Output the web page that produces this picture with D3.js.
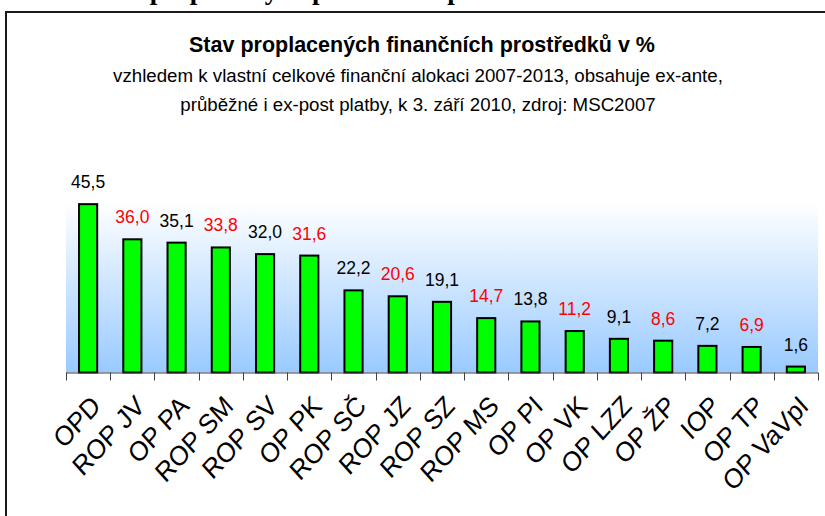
<!DOCTYPE html>
<html>
<head>
<meta charset="utf-8">
<script src="https://cdn.jsdelivr.net/npm/d3@7"></script>
<style>
  body { margin: 0; background: #fff; }
  svg { display: block; font-family: "Liberation Sans", Arial, sans-serif; }
</style>
</head>
<body>
<div id="chart"></div>
<script>
// data
const categories = ["OPD", "ROP JV", "OP PA", "ROP SM", "ROP SV", "OP PK", "ROP SČ", "ROP JZ", "ROP SZ",
                    "ROP MS", "OP PI", "OP VK", "OP LZZ", "OP ŽP", "IOP", "OP TP", "OP VaVpI"];
const values = [45.5, 36.0, 35.1, 33.8, 32.0, 31.6, 22.2, 20.6, 19.1, 14.7, 13.8, 11.2, 9.1, 8.6, 7.2, 6.9, 1.6];
const yDomain = [0, 50];

const titleText = "Stav proplacených finančních prostředků v %";
const subtitleLines = [
    "vzhledem k vlastní celkové finanční alokaci 2007-2013, obsahuje ex-ante,",
    "průběžné i ex-post platby, k 3. září 2010, zdroj: MSC2007"
];
// heading of the document page above the chart, only its descenders are in the picture
const pageText = "Stav proplacených prostředků podle OP";

const data = categories.map((c, i) => ({category: c, value: values[i]}));

const W = 825, H = 516;
const plot = {left: 66, right: 818, top: 187.5, bottom: 372.5};
// the source picture is a bit stretched vertically
const stretch = 1.1;

const svg = d3.select("#chart").append("svg")
    .attr("width", W)
    .attr("height", H);

// gradient for the plot area
const defs = svg.append("defs");
const grad = defs.append("linearGradient")
    .attr("id", "plotGrad")
    .attr("x1", 0).attr("y1", 0).attr("x2", 0).attr("y2", 1);
grad.append("stop").attr("offset", "0%").attr("stop-color", "#ffffff");
grad.append("stop").attr("offset", "8%").attr("stop-color", "#ffffff");
grad.append("stop").attr("offset", "100%").attr("stop-color", "#99caff");

// cut off heading of the page
svg.append("text")
    .attr("x", 92)
    .attr("y", -1.5)
    .attr("font-family", "'Liberation Serif', 'Times New Roman', serif")
    .attr("font-weight", "bold")
    .attr("font-size", 27)
    .text(pageText);

// frame (only top and left edge are inside the picture)
svg.append("path")
    .attr("d", `M6,${H} V12 H${W}`)
    .attr("fill", "none")
    .attr("stroke", "#1a1a1a")
    .attr("stroke-width", 2);

// titles
svg.append("text")
    .attr("x", 422)
    .attr("y", 52)
    .attr("text-anchor", "middle")
    .attr("font-weight", "bold")
    .attr("font-size", 21.5)
    .text(titleText);

svg.selectAll(".subtitle")
    .data(subtitleLines)
    .join("text")
    .attr("class", "subtitle")
    .attr("x", 418)
    .attr("y", (d, i) => 82 + i * 29)
    .attr("text-anchor", "middle")
    .attr("font-size", 18.7)
    .text(d => d);

// scales
const xScale = d3.scaleBand()
    .domain(categories)
    .range([plot.left, plot.right])
    .paddingInner(0.59)
    .paddingOuter(0.295);

const yScale = d3.scaleLinear()
    .domain(yDomain)
    .range([plot.bottom, plot.top]);

const g = svg.append("g");

g.append("rect")
    .attr("x", plot.left)
    .attr("y", yScale(yDomain[1]))
    .attr("width", plot.right - plot.left)
    .attr("height", yScale(yDomain[0]) - yScale(yDomain[1]))
    .attr("fill", "url(#plotGrad)");

// bars
g.selectAll(".bar")
    .data(data)
    .join("rect")
    .attr("class", "bar")
    .attr("x", d => xScale(d.category))
    .attr("y", d => yScale(d.value))
    .attr("width", xScale.bandwidth())
    .attr("height", d => yScale(0) - yScale(d.value))
    .attr("fill", "#00ff00")
    .attr("stroke", "#000")
    .attr("stroke-width", 2);

// value labels, every second one red
g.selectAll(".bar-label")
    .data(data)
    .join("text")
    .attr("class", "bar-label")
    .attr("text-anchor", "middle")
    .attr("font-size", 17.5)
    .attr("fill", (d, i) => i % 2 ? "#ff0000" : "#000")
    .attr("transform", d => {
        const x = xScale(d.category) + xScale.bandwidth() / 2;
        return `translate(${x},${yScale(d.value) - 16}) scale(1,${stretch})`;
    })
    .text(d => d3.format(".1f")(d.value).replace(".", ","));

// category axis: line with ticks between the categories
const step = xScale.step();
const axis = g.append("g")
    .attr("class", "x-axis")
    .attr("stroke", "#404040")
    .attr("stroke-width", 1);

axis.append("line")
    .attr("x1", plot.left).attr("x2", plot.right)
    .attr("y1", yScale(0) + 0.5).attr("y2", yScale(0) + 0.5);

axis.selectAll(".tick")
    .data(d3.range(categories.length + 1))
    .join("line")
    .attr("class", "tick")
    .attr("x1", i => Math.round(plot.left + i * step) + 0.5)
    .attr("x2", i => Math.round(plot.left + i * step) + 0.5)
    .attr("y1", yScale(0))
    .attr("y2", yScale(0) + 8);

// rotated category labels
g.selectAll(".cat-label")
    .data(data)
    .join("text")
    .attr("class", "cat-label")
    .attr("text-anchor", "end")
    .attr("font-size", 25)
    .attr("transform", d => {
        const cx = xScale(d.category) + xScale.bandwidth() / 2 + 14;
        return `translate(${cx},${yScale(0) + 35}) scale(1,${stretch}) rotate(-45)`;
    })
    .text(d => d.category);
</script>
</body>
</html>
